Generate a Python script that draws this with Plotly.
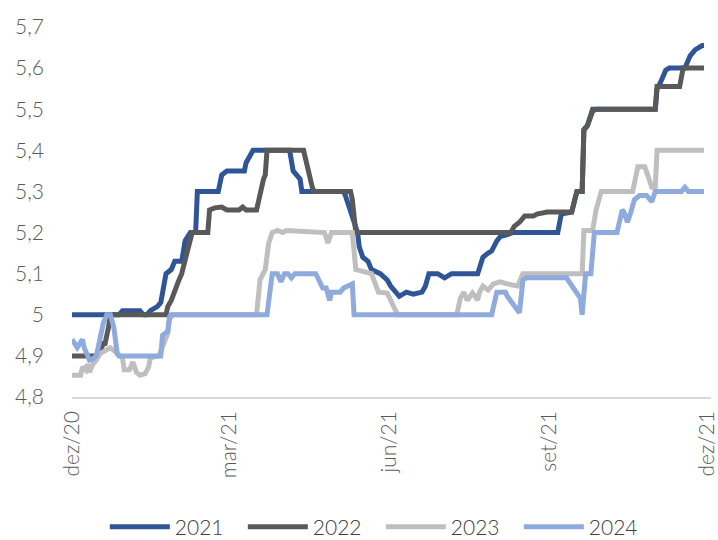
import plotly.graph_objects as go

d21 = ["2020-12-01","2020-12-28","2020-12-30","2021-01-09","2021-01-11","2021-01-13","2021-01-15","2021-01-19","2021-01-21","2021-01-24","2021-01-27","2021-01-29","2021-02-02","2021-02-04","2021-02-07","2021-02-10","2021-02-11","2021-02-23","2021-02-25","2021-02-28","2021-03-10","2021-03-11","2021-03-15","2021-04-05","2021-04-07","2021-04-11","2021-04-12","2021-05-06","2021-05-07","2021-05-10","2021-05-14","2021-05-15","2021-05-17","2021-05-20","2021-05-22","2021-05-27","2021-05-31","2021-06-02","2021-06-05","2021-06-07","2021-06-11","2021-06-15","2021-06-20","2021-06-22","2021-06-24","2021-06-29","2021-07-03","2021-07-07","2021-07-22","2021-07-25","2021-07-28","2021-07-30","2021-08-02","2021-08-04","2021-08-08","2021-08-11","2021-09-06","2021-09-07","2021-09-08","2021-09-14","2021-09-16","2021-09-17","2021-09-20","2021-09-21","2021-09-23","2021-09-26","2021-11-01","2021-11-02","2021-11-04","2021-11-07","2021-11-09","2021-11-18","2021-11-21","2021-11-24","2021-11-28","2021-11-29"]
v21 = [5.0,5.0,5.01,5.01,5.0,5.0,5.01,5.02,5.03,5.10,5.11,5.13,5.13,5.18,5.2,5.2,5.3,5.3,5.34,5.35,5.35,5.37,5.4,5.4,5.35,5.33,5.3,5.3,5.29,5.255,5.2,5.165,5.14,5.13,5.11,5.1,5.085,5.07,5.055,5.045,5.055,5.05,5.055,5.07,5.1,5.1,5.09,5.1,5.1,5.14,5.15,5.155,5.18,5.19,5.195,5.2,5.2,5.23,5.245,5.25,5.285,5.3,5.3,5.45,5.46,5.5,5.5,5.55,5.565,5.595,5.6,5.6,5.63,5.645,5.655,5.655]

d22 = ["2020-12-01","2020-12-16","2020-12-19","2020-12-20","2020-12-22","2020-12-23","2021-01-24","2021-01-25","2021-01-27","2021-01-29","2021-01-31","2021-02-02","2021-02-04","2021-02-06","2021-02-08","2021-02-17","2021-02-18","2021-02-21","2021-02-25","2021-02-28","2021-03-07","2021-03-09","2021-03-11","2021-03-17","2021-03-19","2021-03-21","2021-03-22","2021-03-23","2021-04-13","2021-04-15","2021-04-18","2021-04-19","2021-05-10","2021-05-11","2021-05-13","2021-08-10","2021-08-12","2021-08-15","2021-08-18","2021-08-23","2021-08-25","2021-08-31","2021-09-14","2021-09-16","2021-09-17","2021-09-20","2021-09-21","2021-09-23","2021-09-26","2021-09-28","2021-11-01","2021-11-02","2021-11-15","2021-11-17","2021-11-29"]
v22 = [4.9,4.9,4.93,4.93,4.97,5.0,5.0,5.02,5.035,5.06,5.08,5.1,5.135,5.165,5.2,5.2,5.255,5.26,5.262,5.255,5.255,5.262,5.255,5.255,5.295,5.33,5.34,5.4,5.4,5.36,5.31,5.3,5.3,5.28,5.2,5.2,5.215,5.225,5.24,5.24,5.245,5.25,5.25,5.285,5.3,5.3,5.45,5.46,5.495,5.5,5.5,5.555,5.555,5.6,5.6]

d23 = ["2020-12-01","2020-12-06","2020-12-07","2020-12-09","2020-12-10","2020-12-11","2020-12-13","2020-12-15","2020-12-17","2020-12-23","2020-12-26","2020-12-30","2020-12-31","2021-01-03","2021-01-05","2021-01-07","2021-01-09","2021-01-12","2021-01-14","2021-01-15","2021-01-20","2021-01-22","2021-01-25","2021-01-26","2021-01-28","2021-03-17","2021-03-19","2021-03-22","2021-03-24","2021-03-26","2021-03-29","2021-04-01","2021-04-03","2021-04-25","2021-04-27","2021-04-29","2021-05-11","2021-05-13","2021-05-22","2021-05-26","2021-05-31","2021-06-06","2021-07-10","2021-07-12","2021-07-14","2021-07-16","2021-07-19","2021-07-22","2021-07-23","2021-07-25","2021-07-28","2021-07-31","2021-08-04","2021-08-08","2021-08-14","2021-08-17","2021-09-20","2021-09-21","2021-09-26","2021-09-28","2021-10-01","2021-10-19","2021-10-22","2021-10-26","2021-10-30","2021-11-01","2021-11-02","2021-11-29"]
v23 = [4.853,4.853,4.873,4.865,4.88,4.86,4.88,4.89,4.905,4.92,4.91,4.895,4.866,4.866,4.885,4.86,4.853,4.857,4.873,4.895,4.9,4.92,4.955,4.99,5.0,5.0,5.085,5.11,5.175,5.2,5.205,5.2,5.205,5.2,5.175,5.2,5.2,5.11,5.1,5.055,5.053,5.0,5.0,5.04,5.055,5.035,5.053,5.036,5.055,5.07,5.06,5.075,5.08,5.075,5.07,5.1,5.1,5.205,5.205,5.255,5.3,5.3,5.36,5.36,5.31,5.31,5.4,5.4]

d24 = ["2020-12-01","2020-12-03","2020-12-04","2020-12-07","2020-12-08","2020-12-10","2020-12-11","2020-12-13","2020-12-15","2020-12-17","2020-12-19","2020-12-21","2020-12-23","2020-12-25","2020-12-27","2020-12-28","2021-01-21","2021-01-22","2021-01-25","2021-01-26","2021-01-27","2021-03-23","2021-03-26","2021-03-29","2021-03-31","2021-04-02","2021-04-04","2021-04-06","2021-04-08","2021-04-20","2021-04-23","2021-04-24","2021-04-26","2021-04-28","2021-04-29","2021-05-04","2021-05-06","2021-05-11","2021-05-12","2021-07-30","2021-08-02","2021-08-07","2021-08-08","2021-08-12","2021-08-15","2021-08-17","2021-08-19","2021-09-11","2021-09-14","2021-09-17","2021-09-19","2021-09-20","2021-09-22","2021-09-25","2021-09-27","2021-10-10","2021-10-13","2021-10-14","2021-10-16","2021-10-18","2021-10-20","2021-10-23","2021-10-27","2021-10-30","2021-11-01","2021-11-16","2021-11-18","2021-11-20","2021-11-29"]
v24 = [4.94,4.925,4.92,4.94,4.92,4.9,4.89,4.893,4.9,4.94,4.98,5.0,5.0,4.97,4.905,4.9,4.9,4.95,4.96,4.995,5.0,5.0,5.1,5.1,5.08,5.1,5.1,5.09,5.1,5.1,5.077,5.065,5.065,5.035,5.055,5.055,5.065,5.075,5.0,5.0,5.055,5.055,5.045,5.02,5.005,5.085,5.09,5.09,5.07,5.055,5.04,5.0,5.1,5.1,5.2,5.2,5.255,5.25,5.225,5.25,5.28,5.29,5.29,5.275,5.3,5.3,5.31,5.3,5.3]

series_names = ["2021", "2022", "2023", "2024"]
series_colors = ["#2F5597", "#595959", "#BFBFBF", "#8FAADC"]

y_ticks = [4.8, 4.9, 5.0, 5.1, 5.2, 5.3, 5.4, 5.5, 5.6, 5.7]
y_labels = ["4,8", "4,9", "5", "5,1", "5,2", "5,3", "5,4", "5,5", "5,6", "5,7"]
x_ticks = ["2020-12-01", "2021-03-01", "2021-06-01", "2021-09-01", "2021-12-01"]
x_labels = ["dez/20", "mar/21", "jun/21", "set/21", "dez/21"]

fig = go.Figure()
for name, color, xs, ys in zip(series_names, series_colors, [d21, d22, d23, d24], [v21, v22, v23, v24]):
    fig.add_trace(go.Scatter(x=xs, y=ys, mode="lines", name=name,
                             line=dict(color=color, width=5)))

font_family = "Lato, 'Open Sans', sans-serif"
fig.update_layout(
    width=718, height=540,
    margin=dict(l=72, r=7, t=27, b=143, autoexpand=False),
    paper_bgcolor="white", plot_bgcolor="white",
    font=dict(family=font_family, size=21, color="#595959", weight=300),
    showlegend=True,
    legend=dict(orientation="h", xref="container", yref="container",
                x=0.146, xanchor="left", y=0.024, yanchor="middle",
                font=dict(size=21, color="#404040", weight=300), itemwidth=60,
                entrywidth=63, entrywidthmode="pixels"),
)
fig.update_xaxes(type="date", range=["2020-12-01", "2021-12-03"],
                 tickvals=x_ticks, ticktext=x_labels, tickangle=-90,
                 ticklabeloverflow="allow",
                 showgrid=False, zeroline=False, showline=True, automargin=False,
                 linecolor="#D9D9D9", linewidth=1.5, ticks="", ticklabelstandoff=4)
fig.update_yaxes(range=[4.8, 5.7], tickvals=y_ticks, ticktext=y_labels,
                 showgrid=False, zeroline=False, showline=False, ticks="",
                 automargin=False, ticklabelstandoff=27)

fig.write_html("out.html", config={"displayModeBar": False},
               post_script="document.body.style.margin='0px';")
